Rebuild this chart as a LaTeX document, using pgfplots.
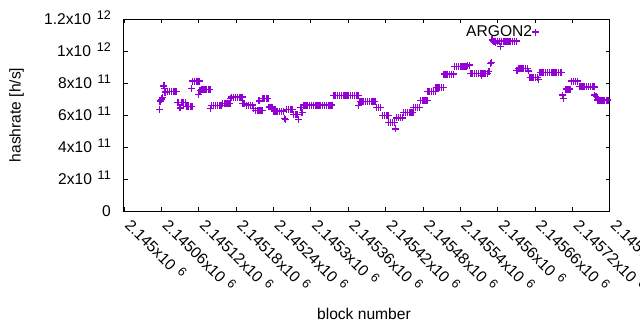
\documentclass[border=0pt]{standalone}
\usepackage{pgfplots}
\pgfplotsset{compat=1.18}
\usepackage{pgfplotstable}
\usepackage{fontspec}
\setmainfont{Liberation Sans}
\definecolor{gpviolet}{HTML}{9400D3}
\newcommand{\sci}[2]{#1x10\hspace{4.3pt}\raisebox{3.4pt}[0pt][0pt]{\fontsize{9.4pt}{10pt}\selectfont #2}}
\newcommand{\gpfont}{\fontsize{11.7pt}{14pt}\selectfont}
% db = block number - 2145000 ; hr = hashrate [h/s]
\pgfplotstableread[row sep=\\]{
db hr\\
57 6.36e11\\ 58 6.85e11\\ 59 6.92e11\\ 60 6.98e11\\ 61 7.02e11\\ 62 7.08e11\\
64 7.82e11\\ 65 7.66e11\\ 66 7.42e11\\
67 7.48e11\\ 70 7.48e11\\ 73 7.48e11\\ 76 7.48e11\\ 79 7.48e11\\ 82 7.48e11\\ 84 7.48e11\\
86 6.80e11\\ 88 6.80e11\\ 90 6.44e11\\
93 6.78e11\\ 96 6.78e11\\ 99 6.78e11\\
101 6.53e11\\ 104 6.53e11\\ 107 6.53e11\\ 109 6.53e11\\ 108 7.67e11\\
110 8.12e11\\ 113 8.12e11\\ 116 8.12e11\\ 119 8.12e11\\ 121 8.12e11\\ 120 7.29e11\\ 122 7.52e11\\
124 7.60e11\\ 127 7.60e11\\ 130 7.60e11\\ 133 7.60e11\\ 136 7.60e11\\ 138 7.60e11\\
139 6.42e11\\
141 6.58e11\\ 144 6.58e11\\ 147 6.58e11\\ 150 6.58e11\\ 153 6.58e11\\ 156 6.58e11\\
158 6.72e11\\ 161 6.72e11\\ 164 6.72e11\\ 167 6.72e11\\ 170 6.72e11\\
171 7.05e11\\
173 7.12e11\\ 176 7.12e11\\ 179 7.12e11\\ 182 7.12e11\\ 185 7.12e11\\ 188 7.12e11\\ 190 7.12e11\\
191 6.72e11\\ 194 6.72e11\\
197 6.62e11\\ 200 6.62e11\\ 203 6.62e11\\ 206 6.62e11\\
208 6.42e11\\
211 6.28e11\\ 214 6.28e11\\ 217 6.28e11\\ 220 6.28e11\\ 222 6.28e11\\ 217 6.88e11\\
223 7.04e11\\ 226 7.04e11\\ 229 7.04e11\\ 231 7.04e11\\
233 6.50e11\\ 236 6.50e11\\ 239 6.50e11\\
241 6.24e11\\ 244 6.24e11\\ 247 6.24e11\\ 250 6.24e11\\ 253 6.24e11\\ 256 6.24e11\\
258 5.80e11\\ 259 5.72e11\\
261 6.36e11\\ 264 6.36e11\\ 267 6.36e11\\ 270 6.36e11\\
272 6.03e11\\ 275 6.03e11\\ 278 6.03e11\\
280 5.70e11\\ 284 6.48e11\\ 286 6.15e11\\
289 6.62e11\\ 292 6.62e11\\ 295 6.62e11\\ 298 6.62e11\\ 301 6.62e11\\ 304 6.62e11\\ 307 6.62e11\\ 310 6.62e11\\
313 6.62e11\\ 316 6.62e11\\ 319 6.62e11\\ 322 6.62e11\\ 325 6.62e11\\ 328 6.62e11\\ 331 6.62e11\\ 334 6.62e11\\
337 7.23e11\\ 340 7.23e11\\ 343 7.23e11\\ 346 7.23e11\\ 349 7.23e11\\ 352 7.23e11\\ 355 7.23e11\\
358 7.23e11\\ 361 7.23e11\\ 364 7.23e11\\ 367 7.23e11\\ 370 7.23e11\\ 373 7.23e11\\ 376 7.23e11\\
377 6.60e11\\
379 6.85e11\\ 382 6.85e11\\ 385 6.85e11\\ 388 6.85e11\\ 391 6.85e11\\ 394 6.85e11\\ 397 6.85e11\\ 400 6.85e11\\ 403 6.85e11\\
406 6.46e11\\ 409 6.46e11\\ 412 6.46e11\\
415 5.97e11\\ 418 5.97e11\\ 421 5.97e11\\ 424 5.97e11\\
425 5.52e11\\ 428 5.52e11\\ 431 5.52e11\\ 434 5.52e11\\
436 5.13e11\\
438 5.82e11\\ 441 5.82e11\\ 444 5.82e11\\ 447 5.82e11\\
449 6.14e11\\ 452 6.14e11\\ 455 6.14e11\\ 458 6.14e11\\ 461 6.14e11\\ 464 6.14e11\\
465 6.47e11\\ 468 6.47e11\\ 471 6.47e11\\ 474 6.47e11\\
476 6.92e11\\ 479 6.92e11\\ 482 6.92e11\\ 485 6.92e11\\ 487 6.92e11\\
488 7.48e11\\ 491 7.48e11\\ 494 7.48e11\\ 497 7.48e11\\ 500 7.48e11\\
501 7.72e11\\ 504 7.72e11\\ 507 7.72e11\\ 510 7.72e11\\ 513 7.72e11\\
514 8.56e11\\ 517 8.56e11\\ 520 8.56e11\\ 523 8.56e11\\ 526 8.56e11\\ 529 8.56e11\\
531 9.03e11\\ 534 9.03e11\\ 537 9.03e11\\ 540 9.03e11\\ 543 9.03e11\\ 546 9.03e11\\ 549 9.03e11\\
552 9.12e11\\ 555 9.12e11\\
557 8.58e11\\ 560 8.58e11\\ 563 8.58e11\\ 566 8.58e11\\ 569 8.58e11\\ 572 8.58e11\\ 575 8.58e11\\ 578 8.58e11\\ 581 8.58e11\\ 584 8.58e11\\
574 8.46e11\\
586 8.72e11\\ 589 9.22e11\\ 590 9.30e11\\ 591 10.69e11\\
594 10.62e11\\ 597 10.62e11\\ 600 10.62e11\\ 603 10.62e11\\ 606 10.62e11\\ 609 10.62e11\\ 612 10.62e11\\
615 10.62e11\\ 618 10.62e11\\ 621 10.62e11\\ 624 10.62e11\\ 627 10.62e11\\ 630 10.62e11\\
597 10.50e11\\ 605 10.30e11\\
631 8.80e11\\
633 8.92e11\\ 636 8.92e11\\ 639 8.92e11\\ 642 8.92e11\\ 645 8.92e11\\ 648 8.92e11\\
650 8.75e11\\
652 8.33e11\\ 655 8.33e11\\ 658 8.33e11\\ 661 8.33e11\\ 664 8.33e11\\
666 8.20e11\\
668 8.67e11\\ 671 8.67e11\\ 674 8.67e11\\ 677 8.67e11\\ 680 8.67e11\\ 683 8.67e11\\ 686 8.67e11\\
689 8.67e11\\ 692 8.67e11\\ 695 8.67e11\\ 698 8.67e11\\ 701 8.67e11\\ 703 8.67e11\\
704 7.25e11\\ 706 7.04e11\\
710 7.62e11\\ 713 7.62e11\\ 716 7.62e11\\
719 8.12e11\\ 722 8.12e11\\ 725 8.12e11\\ 728 8.12e11\\
731 7.80e11\\ 734 7.80e11\\ 737 7.80e11\\ 740 7.80e11\\ 743 7.80e11\\
746 7.76e11\\ 749 7.76e11\\ 752 7.76e11\\ 755 7.76e11\\
756 7.25e11\\ 758 7.15e11\\
760 6.93e11\\ 763 6.93e11\\ 766 6.93e11\\ 769 6.93e11\\ 772 6.93e11\\ 775 6.93e11\\ 777 6.93e11\\
}\argon
\begin{document}
\begin{tikzpicture}
\begin{axis}[
  at={(93pt,89.25pt)}, anchor=south west,
  width=364.3pt, height=144pt, scale only axis,
  xmin=0, xmax=780, ymin=0, ymax=1.2e12,
  axis line style={line width=0.75pt},
  tick style={black, line width=0.6pt},
  major tick length=3pt,
  scaled x ticks=false, scaled y ticks=false,
  xtick={0,60,120,180,240,300,360,420,480,540,600,660,720,780},
  xticklabels={\sci{2.145}{6},\sci{2.14506}{6},\sci{2.14512}{6},\sci{2.14518}{6},\sci{2.14524}{6},\sci{2.1453}{6},\sci{2.14536}{6},\sci{2.14542}{6},\sci{2.14548}{6},\sci{2.14554}{6},\sci{2.1456}{6},\sci{2.14566}{6},\sci{2.14572}{6},\sci{2.14578}{6}},
  ytick={0,2e11,4e11,6e11,8e11,1e12,1.2e12},
  yticklabels={0,\sci{2}{11},\sci{4}{11},\sci{6}{11},\sci{8}{11},\sci{1}{12},\sci{1.2}{12}},
  tick label style={font=\gpfont},
  xticklabel style={xshift=0pt,yshift=-11.25pt,rotate=-45,anchor=base west,inner sep=0pt},
  yticklabel style={xshift=-9.75pt,anchor=east,inner sep=0pt},
  xlabel={block number},
  xlabel style={at={(axis description cs:0.494,-0.536)},anchor=center,font=\gpfont},
  ylabel={hashrate [h/s]},
  ylabel style={at={(axis description cs:-0.2213,0.5)},anchor=center,font=\gpfont},
  legend plot pos=right,
  legend style={draw=none,fill=none,at={(axis description cs:0.704,0.932)},anchor=west,inner sep=0pt,font=\gpfont,nodes={inner sep=0pt}},
]
\addplot[only marks, mark=+, mark size=2.6pt, color=gpviolet, mark options={line width=1pt}]
  table[x=db,y=hr]{\argon};
\addlegendentry{ARGON2\hspace{19.5pt}}
\end{axis}
\pgfresetboundingbox
\path[use as bounding box] (0,0) rectangle (480pt,247.5pt);
\end{tikzpicture}
\end{document}
